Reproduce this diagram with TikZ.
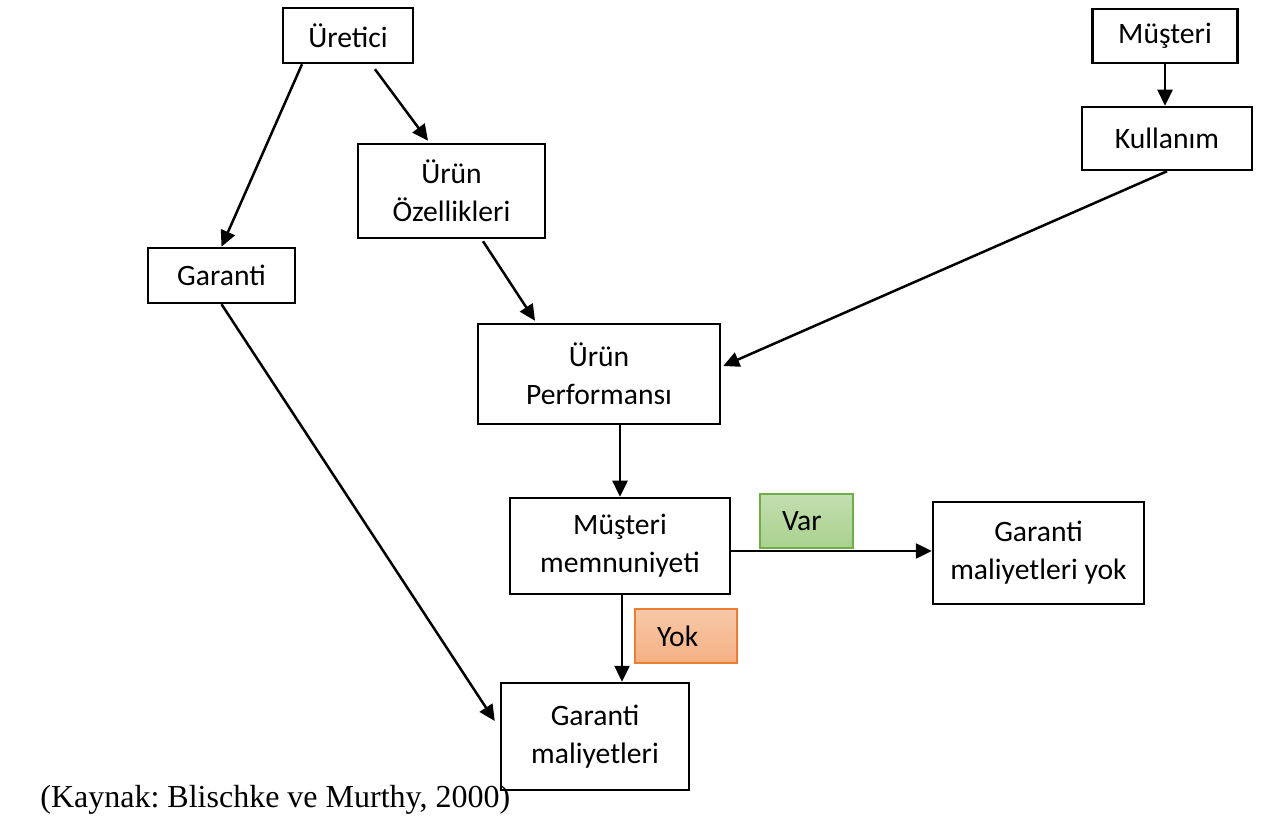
\documentclass[tikz,border=0pt]{standalone}
\usepackage{fontspec}
\setmainfont{Carlito}
\newfontfamily\capfont{Liberation Serif}
\usetikzlibrary{arrows.meta, calc}

\definecolor{varfill}{HTML}{A9D18E}
\definecolor{varline}{HTML}{70AD47}
\definecolor{yokfill}{HTML}{F4B183}
\definecolor{yokline}{HTML}{ED7D31}

\begin{document}
\begin{tikzpicture}[
    x=0.5pt, y=-0.5pt,
    font=\fontsize{14.8}{19}\selectfont,
    box/.style={rectangle, draw=black, line width=1.25pt, fill=white, align=center, inner sep=0pt},
    tag/.style={rectangle, line width=0.6pt, align=left, inner xsep=11pt, inner ysep=0pt, minimum height=27pt},
    arrow/.style={-{Triangle[length=8pt, width=7.5pt]}, line width=1.25pt, draw=black}
]
\useasboundingbox (0,0) rectangle (1262,822);

% Producer side
\node[box, minimum width=65pt, minimum height=27.5pt] (uretici) at (348,35.5) {Üretici};
\node[box, minimum width=93.5pt, minimum height=47pt] (ozellik) at (451.5,191) {Ürün\\Özellikleri};
\node[box, minimum width=73.5pt, minimum height=27.5pt] (garanti) at (221.5,275.5) {Garanti};

% Customer side
\node[box, minimum width=72.5pt, minimum height=27pt] (musteri) at (1165,36) {Müşteri};
\node[box, minimum width=85pt, minimum height=31.5pt] (kullanim) at (1167,138.5) {Kullanım};

% Outcome
\node[box, minimum width=121pt, minimum height=50pt] (perf) at (599,374) {Ürün\\Performansı};
\node[box, minimum width=110pt, minimum height=48pt] (memnun) at (620,546) {Müşteri\\memnuniyeti};
\node[box, minimum width=105.5pt, minimum height=51pt] (garyok) at (1038.5,553) {Garanti\\maliyetleri yok};
\node[box, minimum width=94pt, minimum height=53.5pt] (maliyet) at (595,736.5) {Garanti\\maliyetleri};

% Links
\draw[arrow] ($(uretici.south)+(-46,0)$) -- (garanti.north);
\draw[arrow] ($(uretici.south)+(27,5)$) -- ($(ozellik.north)+(-23.5,-2)$);
\draw[arrow] ($(ozellik.south)+(31.5,2)$) -- ($(perf.north)+(-64,-2)$);
\draw[arrow] (musteri.south) -- (musteri.south |- kullanim.north);
\draw[arrow] (kullanim.south) -- ($(perf.east)+(2,-8)$);
\draw[arrow] (garanti.south) -- ($(maliyet.west)+(-5,-15.5)$);
\draw[arrow] (perf.south -| memnun.north) -- (memnun.north);
\draw[arrow] ($(memnun.east)+(0,5)$) coordinate (v) -- (v -| garyok.west);
\draw[arrow] ($(memnun.south)+(2,0)$) coordinate (y) -- (y |- maliyet.north);

% Decision tags
\node[tag, draw=varline, top color=varfill!70, bottom color=varfill, text width=24.5pt] (var) at (806.5,521) {Var};
\node[tag, draw=yokline, top color=yokfill!70, bottom color=yokfill, text width=29pt] (yok) at (686,636) {Yok};

% Source
\node[anchor=west, inner sep=0pt, font=\capfont\fontsize{16}{19}\selectfont\frenchspacing] (kaynak) at (40,800) {(Kaynak: Blischke ve Murthy, 2000)};

\end{tikzpicture}
\end{document}
